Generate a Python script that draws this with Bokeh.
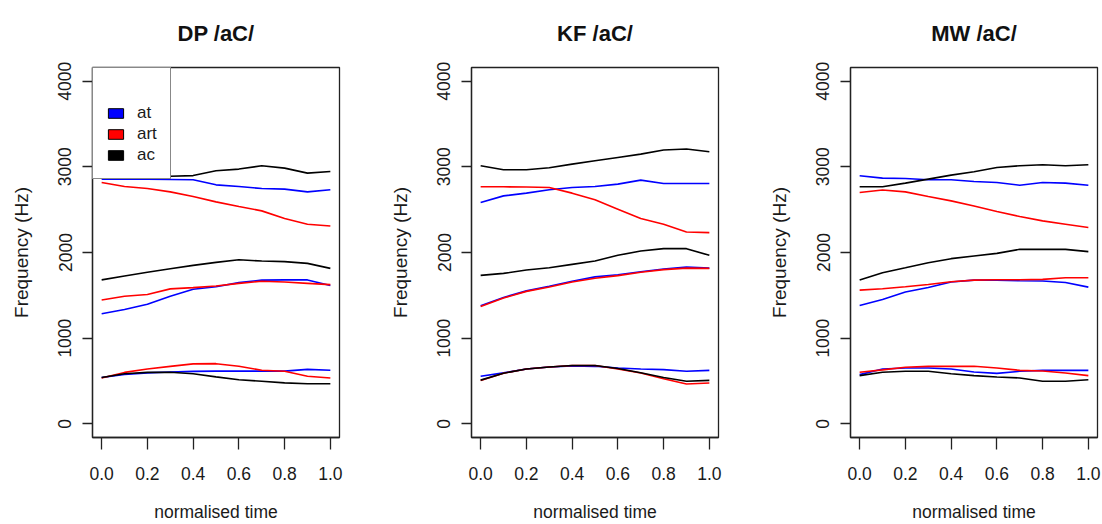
from bokeh.plotting import figure
from bokeh.layouts import row
from bokeh.models import (Range1d, FixedTicker, PrintfTickFormatter, Legend, LegendItem,
                          ColumnDataSource)
from bokeh.embed import file_html
from bokeh.resources import INLINE

# ---------------- data ----------------
t = [0.0, 0.1, 0.2, 0.3, 0.4, 0.5, 0.6, 0.7, 0.8, 0.9, 1.0]

panel_titles = ["DP /aC/", "KF /aC/", "MW /aC/"]
conditions = ["at", "art", "ac"]
colors = {"at": "#0000FF", "art": "#FF0000", "ac": "#000000"}

x_ticks = [0.0, 0.2, 0.4, 0.6, 0.8, 1.0]
y_ticks = [0, 1000, 2000, 3000, 4000]

# DP
dp_at_f1 = [540, 575, 595, 605, 612, 615, 615, 615, 615, 635, 625]
dp_art_f1 = [535, 600, 640, 670, 700, 702, 672, 625, 613, 555, 535]
dp_ac_f1 = [540, 585, 600, 602, 585, 548, 515, 497, 478, 468, 468]
dp_at_f2 = [1285, 1335, 1395, 1490, 1570, 1600, 1648, 1678, 1680, 1680, 1615]
dp_art_f2 = [1445, 1490, 1510, 1575, 1590, 1608, 1640, 1665, 1655, 1640, 1625]
dp_ac_f2 = [1680, 1725, 1770, 1810, 1850, 1885, 1915, 1900, 1893, 1873, 1815]
dp_at_f3 = [2857, 2857, 2855, 2853, 2849, 2790, 2771, 2747, 2740, 2708, 2732]
dp_art_f3 = [2818, 2770, 2747, 2708, 2654, 2591, 2537, 2486, 2396, 2330, 2310]
dp_ac_f3 = [2885, 2885, 2888, 2890, 2898, 2954, 2974, 3013, 2985, 2927, 2946]

# KF
kf_at_f1 = [555, 595, 640, 663, 675, 671, 652, 640, 632, 613, 624]
kf_art_f1 = [505, 590, 640, 663, 680, 680, 640, 593, 525, 464, 476]
kf_ac_f1 = [510, 590, 640, 663, 680, 680, 645, 597, 540, 496, 507]
kf_at_f2 = [1378, 1475, 1552, 1605, 1665, 1715, 1740, 1775, 1808, 1830, 1818]
kf_art_f2 = [1370, 1468, 1546, 1597, 1655, 1700, 1730, 1770, 1800, 1818, 1815]
kf_ac_f2 = [1733, 1756, 1795, 1822, 1861, 1900, 1967, 2018, 2045, 2045, 1967]
kf_at_f3 = [2583, 2661, 2693, 2732, 2759, 2771, 2798, 2845, 2806, 2806, 2806]
kf_art_f3 = [2767, 2767, 2765, 2759, 2693, 2615, 2505, 2396, 2330, 2240, 2232]
kf_ac_f3 = [3013, 2966, 2966, 2989, 3032, 3071, 3110, 3149, 3196, 3208, 3177]

# MW
mw_at_f1 = [574, 640, 652, 652, 640, 605, 589, 613, 624, 624, 624]
mw_art_f1 = [601, 630, 660, 671, 671, 671, 652, 624, 617, 593, 562]
mw_ac_f1 = [562, 601, 613, 613, 585, 562, 546, 535, 496, 496, 515]
mw_at_f2 = [1381, 1452, 1538, 1592, 1655, 1678, 1678, 1670, 1668, 1650, 1596]
mw_art_f2 = [1561, 1577, 1600, 1627, 1659, 1678, 1682, 1682, 1686, 1705, 1705]
mw_ac_f2 = [1678, 1764, 1822, 1881, 1928, 1959, 1990, 2037, 2037, 2037, 2010]
mw_at_f3 = [2896, 2868, 2864, 2849, 2849, 2829, 2818, 2786, 2818, 2810, 2786]
mw_art_f3 = [2700, 2730, 2708, 2654, 2603, 2544, 2478, 2420, 2369, 2330, 2291]
mw_ac_f3 = [2767, 2767, 2810, 2857, 2903, 2942, 2993, 3013, 3024, 3013, 3024]

panels = [
    {"at": [dp_at_f1, dp_at_f2, dp_at_f3], "art": [dp_art_f1, dp_art_f2, dp_art_f3],
     "ac": [dp_ac_f1, dp_ac_f2, dp_ac_f3]},
    {"at": [kf_at_f1, kf_at_f2, kf_at_f3], "art": [kf_art_f1, kf_art_f2, kf_art_f3],
     "ac": [kf_ac_f1, kf_ac_f2, kf_ac_f3]},
    {"at": [mw_at_f1, mw_at_f2, mw_at_f3], "art": [mw_art_f1, mw_art_f2, mw_art_f3],
     "ac": [mw_ac_f1, mw_ac_f2, mw_ac_f3]},
]

FONT = "Liberation Sans"
TXT = "#1a1a1a"
NAN = float("nan")

figs = []
for i, (title, pdata) in enumerate(zip(panel_titles, panels)):
    right_border = 40 if i < 2 else 5
    p = figure(output_backend="svg", toolbar_location=None,
               frame_width=247, frame_height=370,
               min_border_left=92, min_border_right=right_border,
               min_border_top=67, min_border_bottom=86,
               x_range=Range1d(-0.04, 1.04), y_range=Range1d(-160, 4160),
               title=title)
    p.title.align = "center"
    p.title.vertical_align = "top"
    p.title.text_font = FONT
    p.title.text_font_style = "bold"
    p.title.text_font_size = "22px"
    p.title.text_color = "#111111"
    p.title.standoff = 39

    p.xgrid.visible = False
    p.ygrid.visible = False
    p.outline_line_color = "#222222"
    p.outline_line_width = 1.3
    p.background_fill_color = "white"
    p.border_fill_color = "white"

    xa = p.xaxis[0]
    xa.ticker = FixedTicker(ticks=x_ticks)
    xa.formatter = PrintfTickFormatter(format="%.1f")
    xa.axis_label = "normalised time"
    xa.major_tick_out = 12
    xa.major_tick_in = 0
    xa.minor_tick_out = 0
    xa.minor_tick_in = 0
    xa.major_label_standoff = 17
    xa.axis_label_standoff = 19
    xa.axis_line_color = "#222222"
    xa.axis_line_width = 1.3
    xa.major_tick_line_color = "#222222"
    xa.major_tick_line_width = 1.3

    ya = p.yaxis[0]
    ya.ticker = FixedTicker(ticks=y_ticks)
    ya.axis_label = "Frequency (Hz)"
    ya.major_label_orientation = "vertical"
    ya.major_tick_out = 10
    ya.major_tick_in = 0
    ya.minor_tick_out = 0
    ya.minor_tick_in = 0
    ya.major_label_standoff = 11
    ya.axis_label_standoff = 24
    ya.axis_line_color = "#222222"
    ya.axis_line_width = 1.3
    ya.major_tick_line_color = "#222222"
    ya.major_tick_line_width = 1.3

    for ax in (xa, ya):
        ax.major_label_text_font = FONT
        ax.major_label_text_font_size = "17.5px"
        ax.major_label_text_color = TXT
        ax.axis_label_text_font = FONT
        ax.axis_label_text_font_style = "normal"
        ax.axis_label_text_color = TXT
    xa.axis_label_text_font_size = "17.5px"
    ya.axis_label_text_font_size = "19px"

    for cond in conditions:
        for series in pdata[cond]:
            p.line(t, series, line_color=colors[cond], line_width=1.6)

    if i == 0:
        items = []
        for cond in conditions:
            src = ColumnDataSource(dict(l=[NAN], r=[NAN], b=[NAN], tp=[NAN]))
            r = p.quad(left="l", right="r", bottom="b", top="tp", source=src,
                       fill_color=colors[cond], line_color="black", line_width=1)
            items.append(LegendItem(label=cond, renderers=[r]))
        leg = Legend(items=items, location="top_left", margin=0,
                     padding=13, spacing=1, glyph_width=19, glyph_height=12,
                     label_standoff=12, label_text_font=FONT,
                     label_text_font_size="17px", label_text_color=TXT,
                     title=" ", title_text_font_size="11px", title_standoff=10,
                     border_line_color="#111111", border_line_width=1.3,
                     background_fill_color="white", background_fill_alpha=1.0)
        p.add_layout(leg, "center")

    figs.append(p)

layout = row(*figs)
open("out.html", "w").write(file_html(layout, INLINE))
